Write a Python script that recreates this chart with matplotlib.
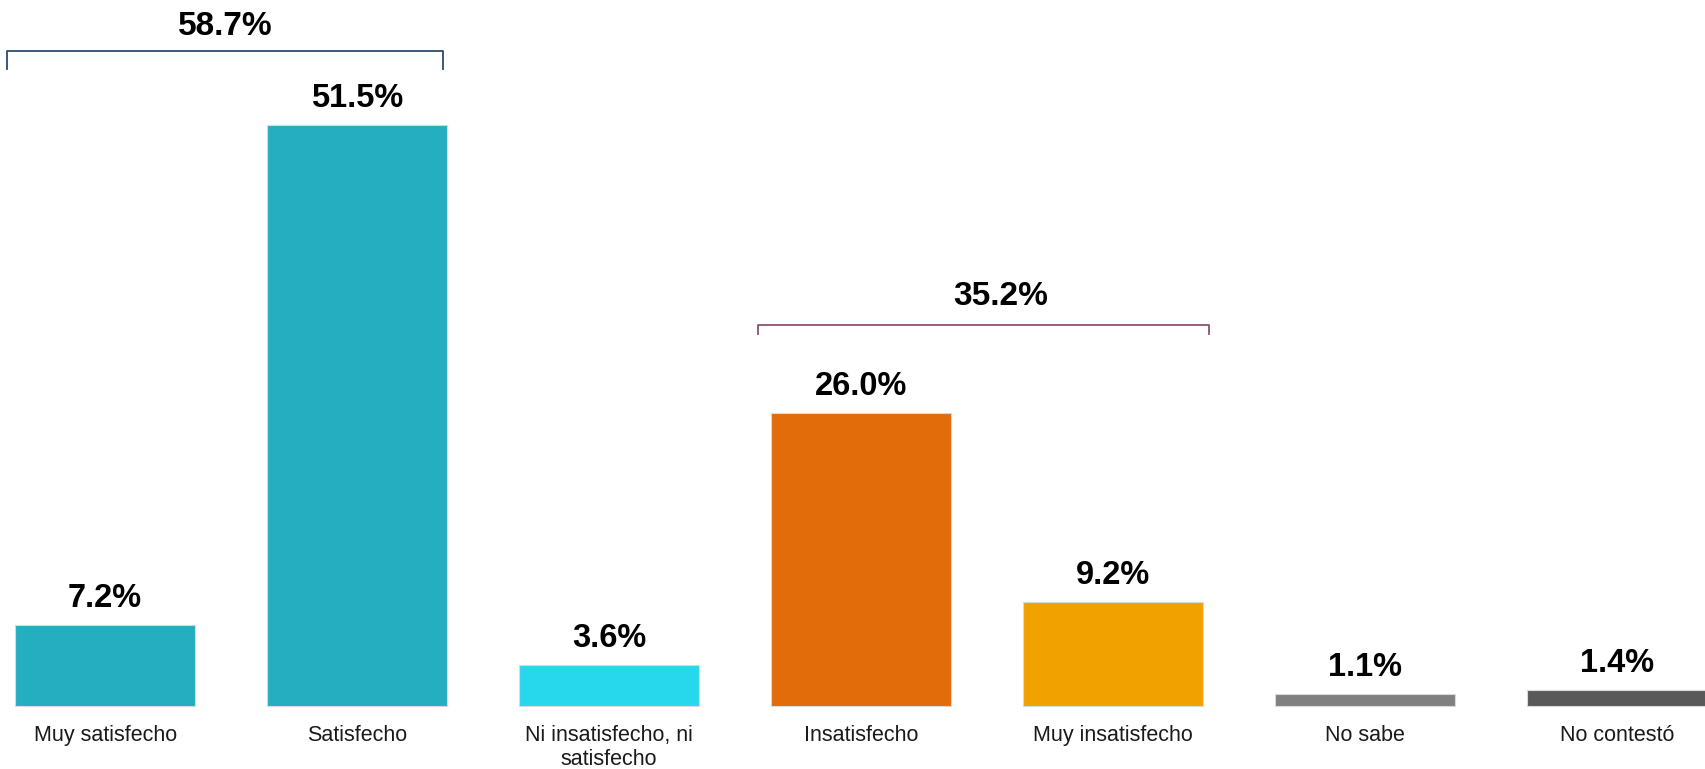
import numpy as np
import matplotlib.pyplot as plt

plt.rcParams['font.family'] = ['Liberation Sans', 'DejaVu Sans']

categories = ["Muy satisfecho", "Satisfecho", "Ni insatisfecho, ni\nsatisfecho",
              "Insatisfecho", "Muy insatisfecho", "No sabe", "No contestó"]
values = [7.2, 51.5, 3.6, 26.0, 9.2, 1.1, 1.4]
bar_colors = ["#25AEC0", "#25AEC0", "#27D8EC", "#E36C0A", "#F2A200", "#808080", "#595959"]

# grouped totals: (first bar, last bar, label)
groups = [(0, 1, "58.7%"), (3, 4, "35.2%")]
group_colors = ["#2B4A6F", "#8E5470"]
group_levels = [58.1, 33.8]
group_drops = [1.6, 0.85]
group_edges = [(-0.39, 0.34), (-0.41, 0.38)]
group_text_gap = [1.4, 1.75]
group_text_shift = [0.0, 0.07]

fig = plt.figure(figsize=(17.06, 7.69), dpi=100)
ax = fig.add_axes([0, 0, 1, 1])

x = np.arange(len(categories))
ax.bar(x, values, width=0.715, color=bar_colors, edgecolor="#D9D9D9", linewidth=0.8)

for xi, v in zip(x, values):
    ax.text(xi, v + 1.6, f"{v:.1f}%", ha="center", va="baseline",
            fontsize=23.5, fontweight="bold", color="black")

for xi, lab in zip(x, categories):
    ax.text(xi, -1.7, lab, ha="center", va="top", fontsize=15.5,
            color="#1a1a1a", linespacing=1.2)

for (a, b, lab), col, lev, drop, (dl, dr), gap, sh in zip(
        groups, group_colors, group_levels, group_drops, group_edges,
        group_text_gap, group_text_shift):
    left = a + dl
    right = b + dr
    ax.plot([left, left, right, right], [lev - drop, lev, lev, lev - drop],
            color=col, linewidth=1.3)
    ax.text((left + right) / 2 + sh, lev + gap, lab, ha="center", va="baseline",
            fontsize=24, fontweight="bold", color="black")

ax.set_xlim(-0.417, 6.353)
ax.set_ylim(-5.59, 62.6)
ax.axis("off")

fig.savefig("out.png", dpi=100)
